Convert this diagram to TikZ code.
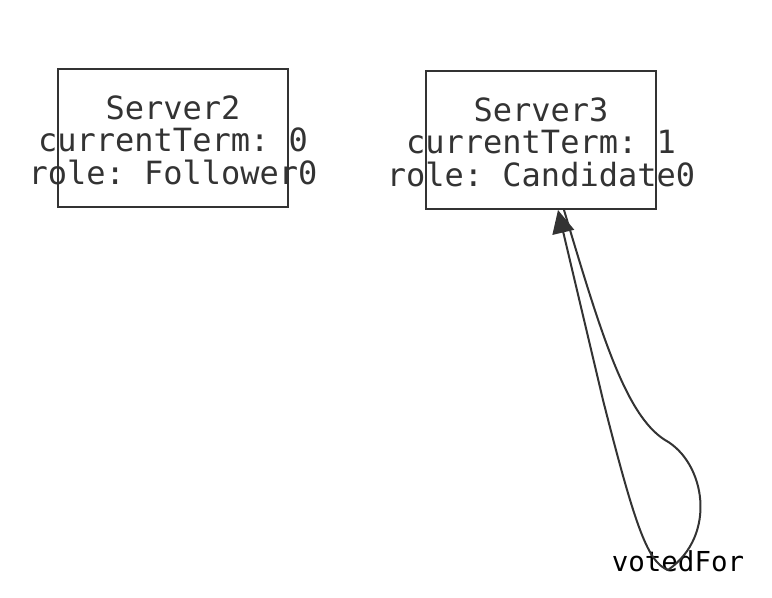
\documentclass[tikz,border=0pt]{standalone}
\usepackage{fontspec}
\setmonofont{DejaVu Sans Mono}
\usetikzlibrary{positioning,arrows.meta}
\definecolor{ink}{HTML}{333333}

\begin{document}
\begin{tikzpicture}[x=0.5pt, y=-0.5pt, on grid, >={Triangle[length=11.5pt,width=11pt]},
  server/.style={draw=ink, line width=1pt, minimum width=115pt, minimum height=69pt, inner sep=0pt},
  servertext/.style={text=ink, font=\ttfamily\fontsize{16}{16.25}\selectfont, align=center, inner sep=0pt},
  edgelabel/.style={text=black, font=\ttfamily\fontsize{13.75}{14}\selectfont, inner sep=0pt}]
\useasboundingbox (0,0) rectangle (772,598);
\node[server]	(s_2)	at (173,138)	{};
\node[server]	(s_3)	[right=184pt of s_2, yshift=-1pt]	{};
\node[servertext]	(t_2)	[yshift=-1pt] at (s_2.center)	{Server2\\currentTerm: 0\\role: Follower0};
\node[servertext]	(t_3)	[yshift=-1pt] at (s_3.center)	{Server3\\currentTerm: 1\\role: Candidate0};
\node[edgelabel, anchor=base]	(voted)	at (678,572)	{votedFor};
\draw[ink, line width=1pt, ->]	([xshift=11.5pt]s_3.south) .. controls (600,330) and (625,415) .. (665,440)
		.. controls (705,462) and (718,535) .. (668,570)
		.. controls (648,562) and (636,530) .. (603,400) -- ([xshift=8.5pt]s_3.south);
\end{tikzpicture}
\end{document}
